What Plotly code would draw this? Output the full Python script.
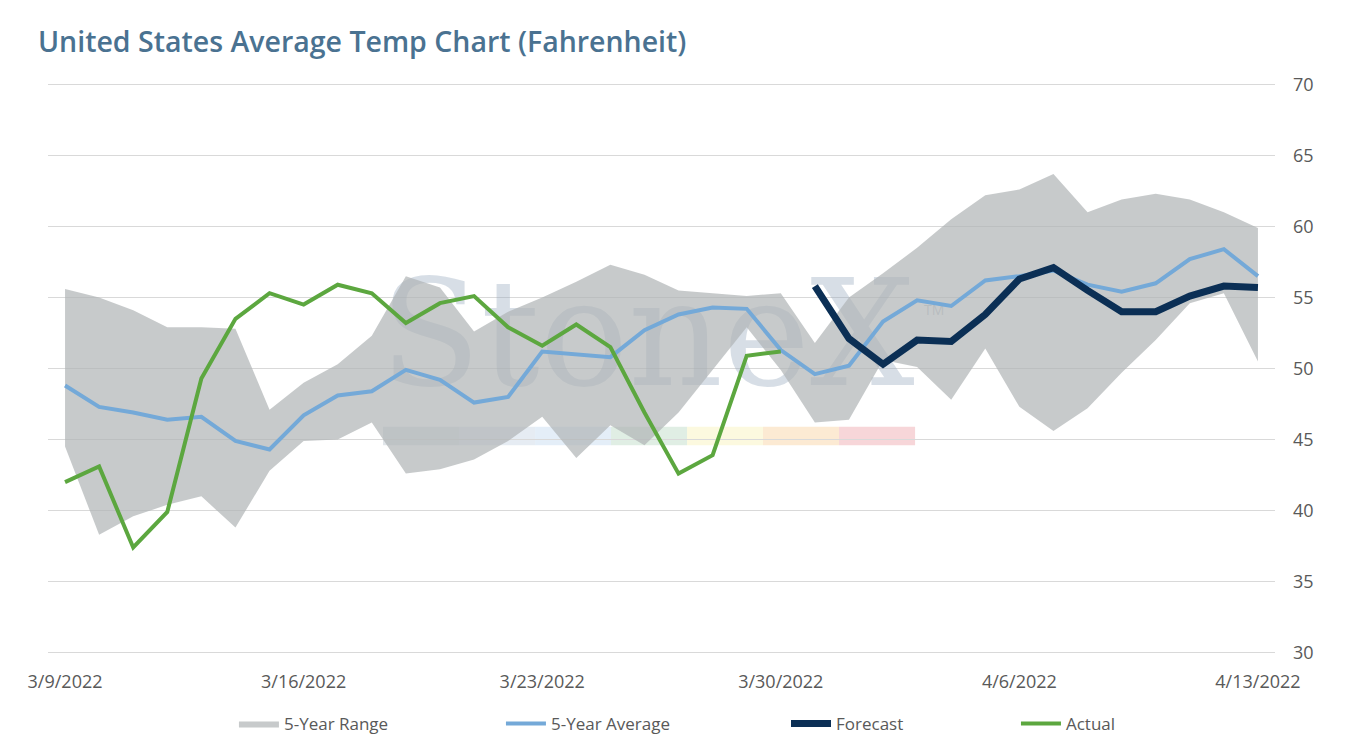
import pandas as pd
import plotly.graph_objects as go

# daily dates 3/9/2022 .. 4/13/2022
dates = pd.date_range("2022-03-09", "2022-04-13", freq="D")

range_high = [55.6, 55.0, 54.1, 52.9, 52.9, 52.8, 47.1, 49.0, 50.3, 52.3, 56.5, 55.7,
              52.6, 54.0, 55.0, 56.1, 57.3, 56.6, 55.5, 55.3, 55.1, 55.3, 51.8, 55.0,
              56.7, 58.5, 60.5, 62.2, 62.6, 63.7, 61.0, 61.9, 62.3, 61.9, 61.0, 59.9]
range_low = [44.5, 38.3, 39.6, 40.4, 41.0, 38.8, 42.8, 44.9, 45.0, 46.2, 42.6, 42.9,
             43.6, 44.9, 46.6, 43.7, 46.0, 44.6, 46.9, 49.9, 52.9, 49.9, 46.2, 46.4,
             50.6, 50.1, 47.8, 51.4, 47.3, 45.6, 47.2, 49.7, 52.0, 54.6, 55.3, 50.5]
avg_5yr = [48.8, 47.3, 46.9, 46.4, 46.6, 44.9, 44.3, 46.7, 48.1, 48.4, 49.9, 49.2,
           47.6, 48.0, 51.2, 51.0, 50.8, 52.7, 53.8, 54.3, 54.2, 51.3, 49.6, 50.2,
           53.3, 54.8, 54.4, 56.2, 56.5, 56.9, 55.9, 55.4, 56.0, 57.7, 58.4, 56.5]
actual = [42.0, 43.1, 37.4, 39.9, 49.3, 53.5, 55.3, 54.5, 55.9, 55.3, 53.2, 54.6,
          55.1, 52.9, 51.6, 53.1, 51.5, 46.9, 42.6, 43.9, 50.9, 51.2]
forecast = [55.8, 52.1, 50.3, 52.0, 51.9, 53.8, 56.3, 57.1, 55.5, 54.0, 54.0, 55.1,
            55.8, 55.7]

tick_dates = ["2022-03-09", "2022-03-16", "2022-03-23", "2022-03-30", "2022-04-06", "2022-04-13"]
tick_text = ["3/9/2022", "3/16/2022", "3/23/2022", "3/30/2022", "4/6/2022", "4/13/2022"]
y_ticks = [30, 35, 40, 45, 50, 55, 60, 65, 70]

fig = go.Figure()

# faint watermark, behind the band
wm = "rgba(150,168,190,0.38)"
fig.add_trace(go.Scatter(x=[pd.Timestamp("2022-03-26 02:00")], y=[51.4], mode="text", text=["StoneX"],
                         textfont=dict(family="DejaVu Serif", size=147, color=wm),
                         showlegend=False, hoverinfo="skip"))
fig.add_trace(go.Scatter(x=[pd.Timestamp("2022-04-03 12:00")], y=[54.0], mode="text", text=["TM"],
                         textfont=dict(family="Open Sans", size=14, color="rgba(150,160,170,0.5)"),
                         showlegend=False, hoverinfo="skip"))

fig.add_trace(go.Scatter(x=dates, y=range_low, mode="lines", line=dict(width=0),
                         showlegend=False, hoverinfo="skip"))
fig.add_trace(go.Scatter(x=dates, y=range_high, mode="lines", line=dict(width=0),
                         fill="tonexty", fillcolor="rgba(175,179,181,0.7)", name="5-Year Range",
                         legend="legend"))
fig.add_trace(go.Scatter(x=dates, y=avg_5yr, mode="lines", line=dict(color="#74a9d8", width=4),
                         name="5-Year Average", legend="legend2"))
fig.add_trace(go.Scatter(x=dates[len(actual):], y=forecast, mode="lines",
                         line=dict(color="#0b2f55", width=7), name="Forecast", legend="legend3"))
fig.add_trace(go.Scatter(x=dates[:len(actual)], y=actual, mode="lines",
                         line=dict(color="#5ca73f", width=4), name="Actual", legend="legend4"))

# faded logo colour strip under the watermark
strip = ["rgba(11,48,84,0.12)", "rgba(50,100,160,0.12)", "rgba(120,170,220,0.2)",
         "rgba(100,170,120,0.2)", "rgba(245,235,150,0.3)", "rgba(245,185,110,0.3)",
         "rgba(230,120,130,0.3)"]
for k, c in enumerate(strip):
    fig.add_shape(type="rect", xref="paper", yref="y", layer="below", line_width=0,
                  x0=0.2693 + k * 0.0611, x1=0.2693 + (k + 1) * 0.0611, y0=44.6, y1=45.9,
                  fillcolor=c)


def legend_at(x):
    return dict(orientation="h", xref="container", yref="container", x=x, xanchor="left",
                y=0.0245, yanchor="middle", itemwidth=40,
                font=dict(size=17, color="#595959"), bgcolor="rgba(0,0,0,0)")


# page body has an 8px margin, so the figure is sized 16px smaller
fig.update_layout(
    width=1337, height=734,
    margin=dict(l=40, r=53, t=75, b=88, autoexpand=False),
    paper_bgcolor="white", plot_bgcolor="white",
    font=dict(family="Open Sans", color="#595959", size=17),
    title=dict(text="United States Average Temp Chart (Fahrenheit)", xref="container", yref="container",
               x=0.0224, xanchor="left", y=0.9537, yanchor="middle", pad=dict(l=0, r=0, t=0, b=0),
               font=dict(family="Open Sans", size=28.5, color="#4a7291", weight=600)),
    xaxis=dict(type="date", range=["2022-03-08 12:00", "2022-04-13 12:00"], domain=[0, 0.98633],
               tickvals=tick_dates, ticktext=tick_text, showgrid=False, zeroline=False,
               showline=False, ticks="outside", ticklen=11, tickcolor="rgba(0,0,0,0)",
               tickfont=dict(size=18, color="#595959"), automargin=False),
    yaxis=dict(side="right", anchor="free", position=1, range=[29.9, 70.1], tickvals=y_ticks,
               showgrid=True, gridcolor="#d9d9d9", gridwidth=1.3, zeroline=False, showline=False,
               ticks="", tickfont=dict(size=18, color="#595959"), automargin=False),
    legend=legend_at(0.1690),
    legend2=legend_at(0.3687),
    legend3=legend_at(0.5819),
    legend4=legend_at(0.7539),
    showlegend=True,
)

fig.write_html("out.html")
